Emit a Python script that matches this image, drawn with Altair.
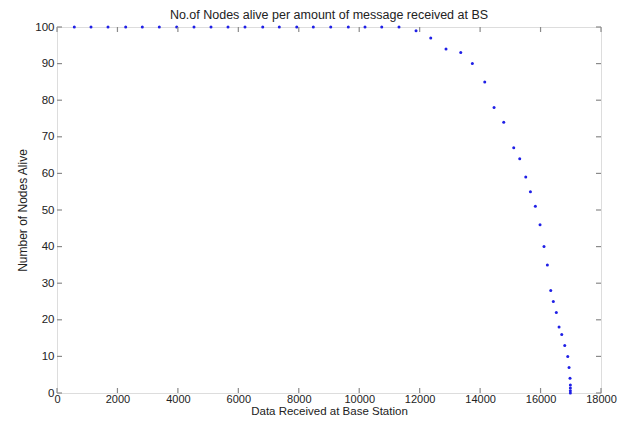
import altair as alt
import pandas as pd

# ---- data ----
data_received = [
    572, 1125, 1688, 2273, 2823, 3385, 3961, 4533, 5096, 5658,
    6221, 6807, 7356, 7932, 8481, 9057, 9639, 10192, 10745, 11317,
    11880, 12366, 12872, 13359, 13743, 14153, 14461, 14782, 15113, 15311,
    15510, 15665, 15828, 15983, 16115, 16225, 16337, 16423, 16522, 16612,
    16701, 16800, 16899, 16943, 16975, 16986, 16986, 16986, 16986,
]
nodes_alive = [
    100, 100, 100, 100, 100, 100, 100, 100, 100, 100,
    100, 100, 100, 100, 100, 100, 100, 100, 100, 100,
    99, 97, 94, 93, 90, 85, 78, 74, 67, 64,
    59, 55, 51, 46, 40, 35, 28, 25, 22, 18,
    16, 13, 10, 7, 4, 2.2, 1.4, 0.6, 0,
]
x_ticks = [0, 2000, 4000, 6000, 8000, 10000, 12000, 14000, 16000, 18000]
y_ticks = [0, 10, 20, 30, 40, 50, 60, 70, 80, 90, 100]

W, H = 544, 366
GRAY = "#8a8a8a"
FONT = "Liberation Sans"

df = pd.DataFrame({"x": data_received, "y": nodes_alive})
xt = pd.DataFrame({"x": x_ticks})
yt = pd.DataFrame({"y": y_ticks})

xs = alt.Scale(domain=[0, 18000], nice=False, zero=False)
ys = alt.Scale(domain=[0, 100], nice=False, zero=False)

x_axis = alt.Axis(
    title="Data Received at Base Station", values=x_ticks, ticks=False,
    grid=False, domain=False, labelPadding=0, labelFlush=False,
    labelOverlap=False, titleY=21.5, titleBaseline="alphabetic",
    labelFontSize=11, titleFontSize=11.5, titleFontWeight="normal",
    labelColor="#222222", titleColor="#222222", format="d",
    labelFont=FONT, titleFont=FONT)
y_axis = alt.Axis(
    title="Number of Nodes Alive", values=y_ticks, ticks=False,
    grid=False, domain=False, labelPadding=3, titlePadding=5,
    labelFlush=False, labelOverlap=False,
    labelFontSize=11.5, titleFontSize=12, titleFontWeight="normal",
    labelColor="#222222", titleColor="#222222", format="d",
    labelFont=FONT, titleFont=FONT)

points = alt.Chart(df).mark_circle(size=9, color="#1f1fe6", opacity=1).encode(
    x=alt.X("x:Q", scale=xs, axis=x_axis),
    y=alt.Y("y:Q", scale=ys, axis=y_axis),
)

tick_b = alt.Chart(xt).mark_rule(color=GRAY, strokeWidth=1.2).encode(
    x=alt.X("x:Q", scale=xs, axis=x_axis), y=alt.value(H), y2=alt.value(H - 5))
tick_t = alt.Chart(xt).mark_rule(color=GRAY, strokeWidth=1.2).encode(
    x=alt.X("x:Q", scale=xs, axis=x_axis), y=alt.value(0), y2=alt.value(5))
tick_l = alt.Chart(yt).mark_rule(color=GRAY, strokeWidth=1.2).encode(
    y=alt.Y("y:Q", scale=ys, axis=y_axis), x=alt.value(0), x2=alt.value(5))
tick_r = alt.Chart(yt).mark_rule(color=GRAY, strokeWidth=1.2).encode(
    y=alt.Y("y:Q", scale=ys, axis=y_axis), x=alt.value(W), x2=alt.value(W - 5))

chart = alt.layer(points, tick_b, tick_t, tick_l, tick_r).properties(
    width=W, height=H,
    title=alt.TitleParams(
        "No.of Nodes alive per amount of message received at BS",
        fontSize=12.5, font=FONT, fontWeight="normal", color="#222222",
        offset=0, anchor="middle"),
    padding={"left": 49, "top": 19, "right": 18, "bottom": 24},
    autosize=alt.AutoSizeParams(type="none"),
).configure_view(stroke=GRAY, strokeWidth=1.6).configure(background="white")

chart.save("out.html", embed_options={"renderer": "svg", "actions": False})
